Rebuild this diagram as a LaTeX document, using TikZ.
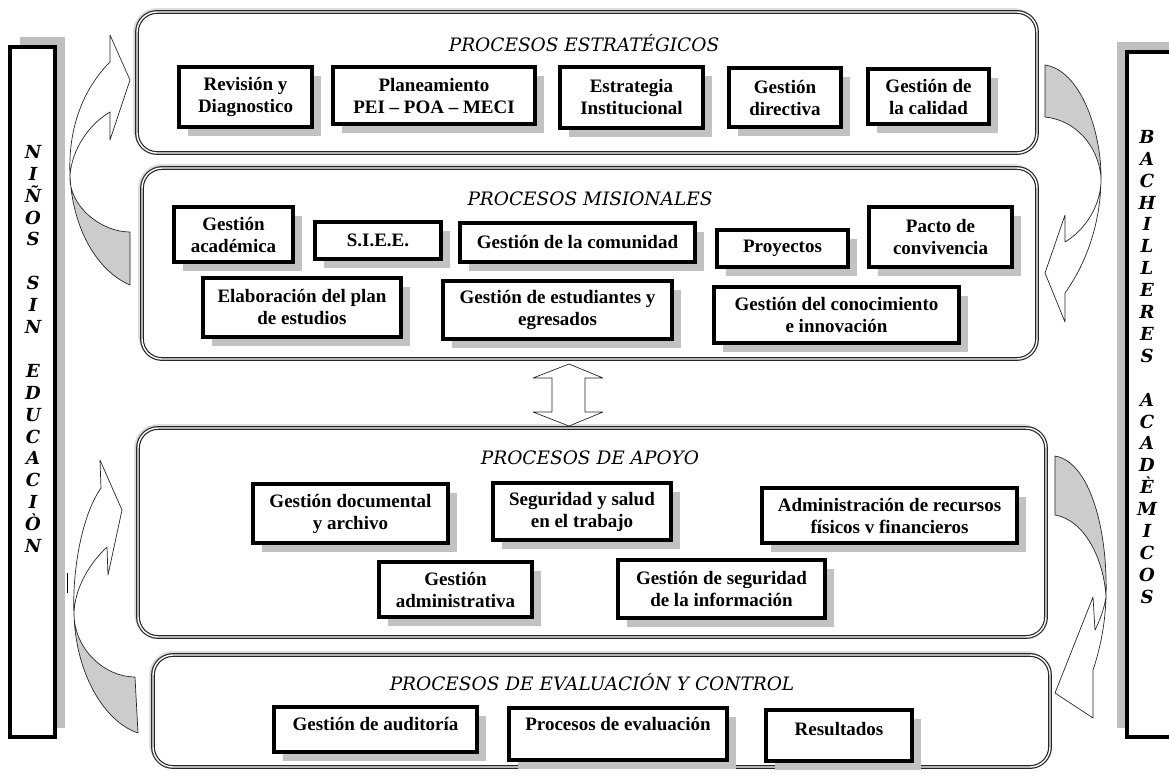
\documentclass[tikz,border=0pt]{standalone}
\usepackage{fontspec}
\setmainfont{Liberation Serif}
\newfontfamily\ttlfont{DejaVu Serif}
\usetikzlibrary{shadows,fit}
\tikzset{
  panel/.style={draw=black!85, line width=1.2pt, double=white, double distance=1.4pt, rounded corners=20pt, fill=white, inner sep=0pt},
  halo/.style={draw=black!13, line width=4pt, rounded corners=22pt},
  pbox/.style={draw=black, line width=3.4pt, fill=white, align=center, inner sep=2pt,
    font=\fontsize{19}{22}\selectfont\bfseries,
    drop shadow={opacity=1, fill=black!24, shadow xshift=9pt, shadow yshift=-9pt}},
  ptitle/.style={font=\ttlfont\itshape\fontsize{18.5}{22}\selectfont, inner sep=0pt},
  sidebox/.style={draw=black, line width=3.2pt, fill=white},
  sideshadow/.style={fill=black!25},
  sidetext/.style={align=center, font=\ttlfont\bfseries\itshape\fontsize{18}{21.9}\selectfont, inner sep=0pt},
  arrowgray/.style={fill=black!20, draw=black!85, line width=0.7pt, line join=round},
  arrowwhite/.style={fill=white, draw=black!85, line width=0.7pt, line join=round},
}
\newcommand{\procpanel}[5]{%
  \draw[halo] ({#2-2},{#3-2}) rectangle ({#4-2},{#5-2});
  \node[panel, fit={(#2,#3) (#4,#5)}] (#1) {};
}
\begin{document}
\begin{tikzpicture}[x=1pt,y=-1pt]
\useasboundingbox (0,0) rectangle (1169,774);
\clip (0,0) rectangle (1169,774);

% side boxes
\fill[sideshadow] (20,37) rectangle (65,728);
\draw[sidebox] (10,47) rectangle (55,737);
\node[sidetext, anchor=north] (ninos) at (33,145)
  {N\\I\\Ñ\\O\\S\\\mbox{}\\S\\I\\N\\\mbox{}\\E\\D\\U\\C\\A\\C\\I\\Ò\\N};
\draw[line width=0.8pt] (67,573) -- (67,593);

\fill[sideshadow] (1117,42) rectangle (1185,728);
\draw[sidebox] (1127,52) rectangle (1185,737);
\node[sidetext, anchor=north] (bach) at (1147,130)
  {B\\A\\C\\H\\I\\L\\L\\E\\R\\E\\S\\\mbox{}\\A\\C\\A\\D\\È\\M\\I\\C\\O\\S};

% panels
\procpanel{pe}{137}{12}{1037}{153}
\procpanel{pm}{142}{168}{1037}{359}
\procpanel{pa}{138}{428}{1046}{637}
\procpanel{pc}{153}{655}{1050}{767}

% titles
\node[ptitle] (te) at (584,43.5) {PROCESOS ESTRATÉGICOS};
\node[ptitle] (tm) at (590,199) {PROCESOS MISIONALES};
\node[ptitle] (ta) at (590,458) {PROCESOS DE APOYO};
\node[ptitle] (tc) at (592,682) {PROCESOS DE EVALUACIÓN Y CONTROL};

% strategic boxes
\node[pbox, minimum width=133pt, minimum height=60pt] (s1) at (245.5,97) {Revisión y\\Diagnostico};
\node[pbox, minimum width=202pt, minimum height=57pt] (s2) at (434,95.5) {Planeamiento\\PEI – POA – MECI};
\node[pbox, minimum width=143pt, minimum height=61pt] (s3) at (631.5,97.5) {Estrategia\\Institucional};
\node[pbox, minimum width=112pt, minimum height=59pt] (s4) at (785,97.5) {Gestión\\directiva};
\node[pbox, minimum width=121pt, minimum height=55pt] (s5) at (928.5,96.5) {Gestión de\\la calidad};

% misional boxes
\node[pbox, minimum width=119pt, minimum height=55pt] (m1) at (233.5,234.5) {Gestión\\académica};
\node[pbox, minimum width=126pt, minimum height=37pt] (m2) at (378,240.5) {S.I.E.E.};
\node[pbox, minimum width=235pt, minimum height=39pt] (m3) at (577.5,242.5) {Gestión de la comunidad};
\node[pbox, minimum width=131pt, minimum height=37pt] (m4) at (782.5,248.5) {Proyectos};
\node[pbox, minimum width=143pt, minimum height=60pt] (m5) at (940.5,237) {Pacto de\\convivencia};
\node[pbox, minimum width=198pt, minimum height=59pt] (m6) at (302,307.5) {Elaboración del plan\\de estudios};
\node[pbox, minimum width=229pt, minimum height=58pt] (m7) at (557.5,310) {Gestión de estudiantes y\\egresados};
\node[pbox, minimum width=245pt, minimum height=56pt] (m8) at (836.5,315) {Gestión del conocimiento\\e innovación};

% apoyo boxes
\node[pbox, minimum width=195pt, minimum height=59pt] (a1) at (350.5,513.5) {Gestión documental\\y archivo};
\node[pbox, minimum width=178pt, minimum height=57pt] (a2) at (582,511.5) {Seguridad y salud\\en el trabajo};
\node[pbox, minimum width=255pt, minimum height=55pt] (a3) at (889.5,515.5) {Administración de recursos\\físicos v financieros};
\node[pbox, minimum width=153pt, minimum height=55pt] (a4) at (455.5,589.5) {Gestión\\administrativa};
\node[pbox, minimum width=207pt, minimum height=58pt] (a5) at (721.5,589) {Gestión de seguridad\\de la información};

% evaluation boxes
\node[pbox, minimum width=203pt, minimum height=45pt, text depth=11pt] (e1) at (375.5,729.5) {Gestión de auditoría};
\node[pbox, minimum width=218pt, minimum height=52pt, text depth=20pt] (e2) at (618,734) {Procesos de evaluación};
\node[pbox, minimum width=146pt, minimum height=51pt, text depth=13pt] (e3) at (839,735.5) {Resultados};

% central double arrow
\draw[arrowwhite] (569,364) -- (603,378) -- (585,378) -- (585,412) -- (603,412) -- (569,426)
  -- (533,412) -- (552,412) -- (552,378) -- (533,378) -- cycle;

% left-top curved arrow
\draw[arrowgray] (70,175) .. controls (68,205) and (100,232) .. (130,232) -- (130,285)
  .. controls (95,270) and (72,225) .. (70,175) -- cycle;
\draw[arrowwhite] (70,175) .. controls (68,130) and (82,90) .. (110,62) -- (110,35) -- (130,80)
  -- (110,140) -- (110,112) .. controls (88,125) and (72,150) .. (70,175) -- cycle;

% left-bottom curved arrow
\draw[arrowgray] (74,615) .. controls (75,650) and (105,677) .. (135,677) -- (138,733)
  .. controls (105,722) and (76,675) .. (74,615) -- cycle;
\draw[arrowwhite] (74,615) .. controls (72,570) and (82,515) .. (101,488) -- (100,460) -- (122,510)
  -- (108,575) -- (107,547) .. controls (88,565) and (74,590) .. (74,615) -- cycle;

% right-top curved arrow
\draw[arrowgray] (1045,65) .. controls (1080,70) and (1101,130) .. (1101,177)
  .. controls (1098,145) and (1075,120) .. (1045,117) -- cycle;
\draw[arrowwhite] (1101,177) .. controls (1101,225) and (1085,265) .. (1065,293) -- (1065,322)
  -- (1045,273) -- (1065,215) -- (1065,242) .. controls (1085,230) and (1102,205) .. (1101,177) -- cycle;

% right-bottom curved arrow
\draw[arrowgray] (1055,456) .. controls (1090,462) and (1108,530) .. (1106,597)
  .. controls (1104,560) and (1085,520) .. (1055,515) -- cycle;
\draw[arrowwhite] (1106,597) .. controls (1105,630) and (1098,655) .. (1093,670) -- (1093,718)
  -- (1055,693) -- (1093,597) -- (1095,630) .. controls (1099,622) and (1104,610) .. (1106,597) -- cycle;
\end{tikzpicture}
\end{document}
